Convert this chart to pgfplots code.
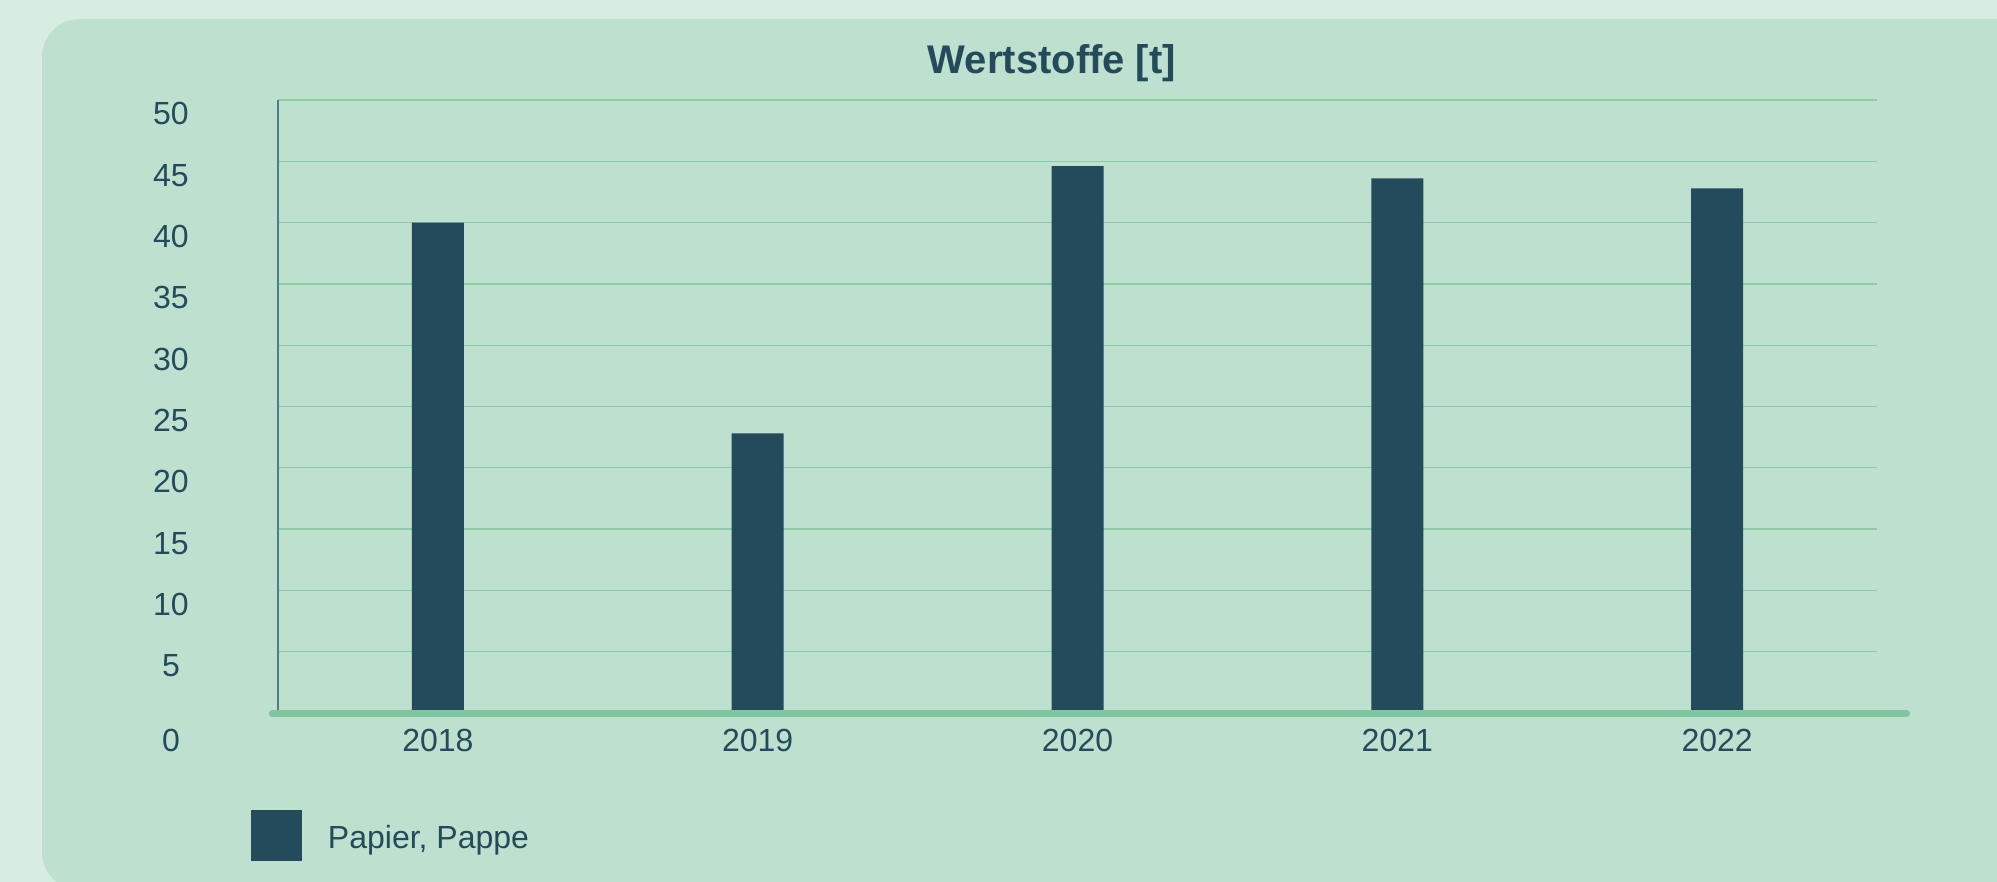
\documentclass[border=0pt]{standalone}
\usepackage{pgfplots}
\pgfplotsset{compat=1.18}
\usepackage{fontspec}
\setmainfont{Liberation Sans}

\definecolor{outerbg}{HTML}{D8EDE2}
\definecolor{panelbg}{HTML}{BEE0CF}
\definecolor{barcol}{HTML}{234B5B}
\definecolor{gridcol}{HTML}{8DCAA8}
\definecolor{basecol}{HTML}{7FC59F}
\definecolor{axiscol}{HTML}{4F7C85}

\begin{document}
\begin{tikzpicture}
% background and rounded panel (1 px = 0.5pt)
\begin{scope}[x=0.5pt,y=0.5pt]
\fill[outerbg] (0,0) rectangle (1997,882);
\fill[panelbg, rounded corners=19pt] (42,-8) rectangle (2060,863);
\end{scope}

\begin{axis}[
at={(139pt,84.5pt)}, anchor=south west,
scale only axis,
width=799.5pt, height=306.5pt,
xmin=-0.5, xmax=4.5,
ymin=0, ymax=50,
ybar, bar width=26pt,
axis lines=left,
x axis line style={draw=none},
y axis line style={-, draw=axiscol, line width=0.65pt},
xtick={0,1,2,3,4},
xticklabels={2018,2019,2020,2021,2022},
ytick={5,10,...,50},
major tick length=0pt,
ymajorgrids,
grid style={gridcol, line width=0.65pt},
/pgf/number format/assume math mode=true,
tick label style={font=\fontsize{16}{19}\selectfont, text=barcol},
xticklabel style={anchor=base, yshift=-19.35pt},
yticklabel style={anchor=base, xshift=-53.5pt, yshift=-12.5pt},
extra y ticks={0},
extra y tick style={grid=none, yticklabel style={yshift=-6.85pt}},
title={Wertstoffe [t]},
title style={font=\fontsize{20}{24}\selectfont\bfseries, text=barcol,
  anchor=base, inner sep=0pt, at={(axis description cs:0.484,1.0237)}},
legend style={draw=none, fill=none, inner sep=0pt, outer sep=0pt,
  anchor=north west, at={(axis description cs:-0.01689,-0.1582)},
  column sep=13pt, font=\fontsize{16}{19}\selectfont, text=barcol,
  nodes={inner sep=0pt}},
legend image code/.code={\fill[barcol] (0pt,-11.5pt) rectangle (25.5pt,14pt);},
]
\addplot[fill=barcol, draw=none] coordinates {
(0,40.0) (1,22.8) (2,44.6) (3,43.6) (4,42.8)
};
\addlegendentry{Papier, Pappe}
\end{axis}

% thick green baseline
\draw[basecol, line width=3.65pt, line cap=round] (136.2pt,84.15pt) -- (953.2pt,84.15pt);

\pgfresetboundingbox
\useasboundingbox (0,0) rectangle (998.5pt,441pt);
\end{tikzpicture}
\end{document}
